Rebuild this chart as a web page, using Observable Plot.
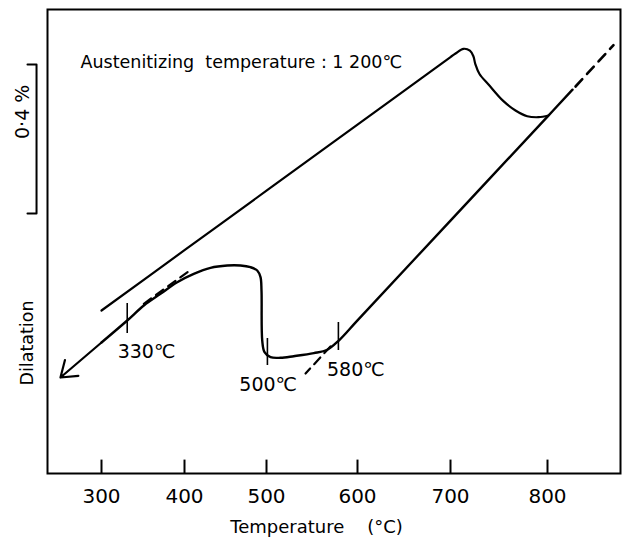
<!DOCTYPE html>
<html><head><meta charset="utf-8">
<script src="https://cdn.jsdelivr.net/npm/d3@7"></script>
<script src="https://cdn.jsdelivr.net/npm/@observablehq/plot@0.6"></script>
<style>body{margin:0;background:#fff}</style>
</head><body><div id="chart"></div>
<script>
// X tick labels (°C)
const tickTemps = [300, 400, 500, 600, 700, 800];

// Heating curve (temperature °C, dilatation %)
const heatT = [300, 400, 500, 600, 700, 705.2, 713.4, 720.0, 723.6, 725.6, 729.9, 739.2, 754.6, 767.0, 779.1, 790.7, 801.0];
const heatD = [0.4376, 0.5995, 0.7592, 0.9367, 1.1178, 1.1275, 1.1401, 1.1350, 1.1200, 1.0990, 1.0725, 1.0443, 0.9995, 0.9745, 0.9592, 0.9565, 0.9611];

// Cooling curve (solid), from austenite down to room side
const coolT = [825.7, 800, 700, 600, 579.5, 566.7, 552.0, 530.0, 515.4, 504.4, 497.6, 494.8, 493.9, 492.7, 488.7, 480.5, 468.3, 452.1, 431.7, 411.3, 391.2, 371.1, 351.0, 331.0, 300];
const coolD = [1.0304, 0.9581, 0.6789, 0.4110, 0.3570, 0.3321, 0.3230, 0.3149, 0.3106, 0.3122, 0.3256, 0.3570, 0.4913, 0.5270, 0.5450, 0.5538, 0.5584, 0.5584, 0.5522, 0.5361, 0.5136, 0.4824, 0.4510, 0.4107, 0.3517];

// Arrow at the end of cooling
const arrowT = [300, 250.6];
const arrowD = [0.3517, 0.2577];

// Dashed extrapolations
const dashTopT = [828.8, 867.8], dashTopD = [1.0389, 1.1500];
const dash330T = [351.0, 409.4], dash330D = [0.4556, 0.5495];
const dash580T = [570.3, 542.9], dash580D = [0.3409, 0.2685];

// Transformation marks on the cooling curve
const markT = [331, 501, 579];
const markLo = [0.3758, 0.2899, 0.3302];
const markHi = [0.4564, 0.3624, 0.4054];
const markLabels = ["330℃", "500℃", "580℃"];
const labelT = [354.2, 501.8, 598.1];
const labelD = [0.3275, 0.2384, 0.2787];

// Scale bar (0.4 % dilatation)
const barLo = 0.698, barSpan = 0.4;

const title = "Austenitizing\u00a0\u00a0temperature : 1 200℃";

const pts = (T, D) => T.map((t, i) => ({x: t, y: D[i]}));
const marks3 = markT.map((t, i) => ({x: t, y1: markLo[i], y2: markHi[i]}));
const labs = markLabels.map((s, i) => ({x: labelT[i], y: labelD[i], s}));

const chart = Plot.plot({
  width: 626, height: 541,
  marginLeft: 47, marginRight: 6, marginTop: 9, marginBottom: 68,
  style: {fontFamily: "DejaVu Sans", background: "white", color: "black", overflow: "visible"},
  x: {type: "linear", domain: [235, 300, 400, 500, 600, 700, 800, 875], range: [47, 101, 184, 266, 357, 450, 547, 620], axis: null},
  y: {domain: [0, 1.2456], range: [473, 9], axis: null},
  marks: [
    Plot.frame({stroke: "black", strokeWidth: 2}),
    Plot.ruleX(tickTemps, {x: d => d, y1: 0, y2: 0.036, stroke: "black", strokeWidth: 2}),
    Plot.axisX(tickTemps, {tickSize: 0, tickPadding: 15, fontSize: 20, label: null}),
    Plot.text(["Temperature\u00a0\u00a0\u00a0\u00a0(°C)"], {x: 555, frameAnchor: "bottom", dy: 47, lineAnchor: "top", fontSize: 18}),
    Plot.text(["Dilatation"], {frameAnchor: "left", y: 0.2362, dx: -20.5, rotate: -90, fontSize: 17.5}),
    // scale bar
    Plot.line([{x: 210.9, y: barLo + barSpan}, {x: 221.8, y: barLo + barSpan}, {x: 221.8, y: barLo}, {x: 210.9, y: barLo}], {x: "x", y: "y", stroke: "black", strokeWidth: 2, clip: false}),
    Plot.text(["0·4 %"], {frameAnchor: "left", y: barLo + barSpan / 2, dx: -24.5, rotate: -90, fontSize: 19}),
    // curves
    Plot.line(pts(heatT, heatD), {x: "x", y: "y", stroke: "black", strokeWidth: 2.2, curve: "catmull-rom"}),
    Plot.line(pts(coolT, coolD), {x: "x", y: "y", stroke: "black", strokeWidth: 2.4, curve: "catmull-rom"}),
    Plot.arrow([0], {x1: arrowT[0], y1: arrowD[0], x2: arrowT[1], y2: arrowD[1], stroke: "black", strokeWidth: 2.2, headLength: 16, headAngle: 70}),
    Plot.line(pts(dashTopT, dashTopD), {x: "x", y: "y", stroke: "black", strokeWidth: 2.6, strokeDasharray: "10,7"}),
    Plot.line(pts(dash330T, dash330D), {x: "x", y: "y", stroke: "black", strokeWidth: 2.2, strokeDasharray: "9,6"}),
    Plot.line(pts(dash580T, dash580D), {x: "x", y: "y", stroke: "black", strokeWidth: 2.2, strokeDasharray: "9,6"}),
    Plot.ruleX(marks3, {x: "x", y1: "y1", y2: "y2", stroke: "black", strokeWidth: 1.6}),
    Plot.text(labs, {x: "x", y: "y", text: "s", fontSize: 19}),
    Plot.text([title], {x: 274.7, y: 1.1042, textAnchor: "start", fontSize: 17.5})
  ]
});
document.getElementById("chart").appendChild(chart);
</script>
</body></html>
